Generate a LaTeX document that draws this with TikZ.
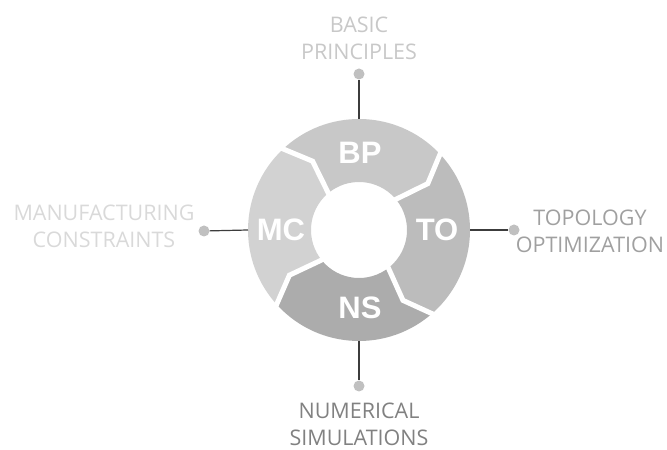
\documentclass[tikz,border=0pt]{standalone}
\usepackage{fontspec}
\setmainfont{Open Sans}
\newfontfamily\segfont{Liberation Sans}
\usetikzlibrary{shapes}

\definecolor{bpgray}{HTML}{C8C8C8}
\definecolor{togray}{HTML}{BCBCBC}
\definecolor{nsgray}{HTML}{ACACAC}
\definecolor{mcgray}{HTML}{D2D2D2}
\definecolor{dotgray}{HTML}{C0C0C0}
\definecolor{linkgray}{HTML}{3C3C3C}

\begin{document}
\begin{tikzpicture}[
    x=1pt, y=1pt,
    every node/.style={align=center}
]

% Define styles
\tikzstyle{segtext} = [text=white, font=\segfont\bfseries\fontsize{31}{32}\selectfont]
\tikzstyle{topic} = [font=\fontsize{21.5}{27}\selectfont, inner sep=0pt]
\tikzstyle{pin} = [circle, fill=dotgray, minimum size=11pt, inner sep=0pt]
\tikzstyle{link} = [draw=linkgray, line width=1.2pt]
\tikzstyle{gap} = [draw=white, line width=5pt, line join=miter]

\useasboundingbox (0,0) rectangle (667,450);

\coordinate (c) at (359,220);

% Ring segments, clockwise from BP
\foreach \a/\b/\col in {134/44/bpgray, 44/-48/togray, -48/-137/nsgray, -137/-226/mcgray}
  \fill[\col] ([shift={(c)}]\a:111) arc[start angle=\a, end angle=\b, radius=111]
    -- ([shift={(c)}]\b-10:83) -- ([shift={(c)}]\b-3:48)
    arc[start angle=\b-3, end angle=\a-3, radius=48]
    -- ([shift={(c)}]\a-10:83) -- cycle;

% White cuts between segments
\foreach \b in {44,-48,-137,134}
  \path[gap] ([shift={(c)}]\b:115) -- ([shift={(c)}]\b-10:83) -- ([shift={(c)}]\b-3:44);

% Segment labels
\node[segtext] (bp) at (360,297) {BP};
\node[segtext] (to) at (437,220) {TO};
\node[segtext] (ns) at (360,142) {NS};
\node[segtext] (mc) at (281,220) {MC};

% Pins and topics
\node[pin] (bppin) at (359,376) {};
\node[pin] (topin) at (514,220) {};
\node[pin] (nspin) at (359,64) {};
\node[pin] (mcpin) at (204,219) {};

\node[topic, text=bpgray] (bptext) at (359,412) {BASIC\\PRINCIPLES};
\node[topic, text=togray!85!black] (totext) at (590,219) {TOPOLOGY\\OPTIMIZATION};
\node[topic, text=nsgray!75!black] (nstext) at (359,26) {NUMERICAL\\SIMULATIONS};
\node[topic, text=mcgray!85!white] (mctext) at (104,224) {MANUFACTURING\\CONSTRAINTS};

% Paths
\coordinate (bpedge) at ([shift={(c)}]90:111);
\coordinate (toedge) at ([shift={(c)}]0:111);
\coordinate (nsedge) at ([shift={(c)}]-90:111);
\coordinate (mcedge) at ([shift={(c)}]180:111);
\path[link] (bpedge) -- (bppin);
\path[link] (toedge) -- (topin);
\path[link] (nsedge) -- (nspin);
\path[link] (mcedge) -- (mcpin);

\end{tikzpicture}
\end{document}
